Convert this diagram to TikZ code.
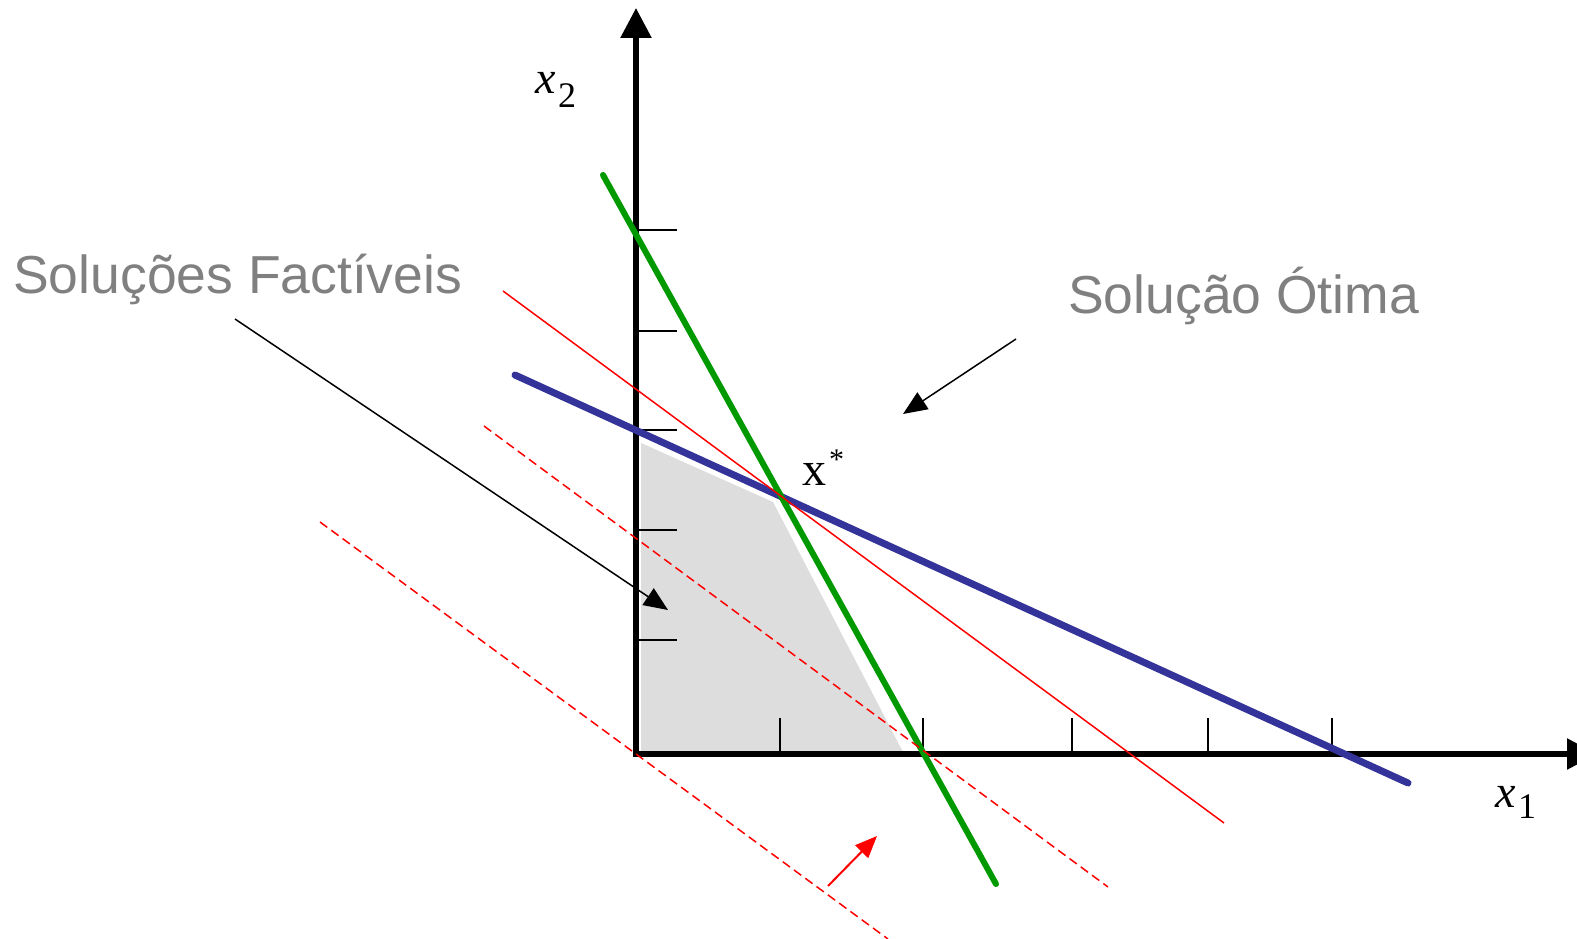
\documentclass[tikz,border=0pt]{standalone}
\usepackage{fontspec}
\setmainfont{Liberation Serif}
\newfontfamily\labelfont{Liberation Sans}
\usetikzlibrary{arrows.meta}
\definecolor{lpgreen}{RGB}{0,153,0}
\definecolor{lpblue}{RGB}{51,51,153}
\definecolor{lpred}{RGB}{255,0,0}
\definecolor{lpgray}{RGB}{128,128,128}
\definecolor{lpshade}{RGB}{221,221,221}
\begin{document}
\begin{tikzpicture}[x=1pt,y=-1pt,
  axisline/.style={line width=5.5pt},
  tickline/.style={line width=1.5pt},
  constraint/.style={line width=7pt, line cap=round},
  objline/.style={lpred, line width=1.5pt},
  objdashed/.style={lpred, line width=1.5pt, dash pattern=on 9pt off 5pt},
  callout/.style={line width=1.5pt, -{Triangle[length=24pt,width=20pt]}},
  bigtext/.style={font=\labelfont\fontsize{53.5}{60}\selectfont, text=lpgray, inner sep=0pt, anchor=base west},
  mathlabel/.style={inner sep=0pt, anchor=base west},
]
\useasboundingbox (0,0) rectangle (1577,939);

% feasible region
\fill[lpshade] (641,443) -- (773,502) -- (903,752) -- (641,752) -- cycle;

% axes
\coordinate (O) at (633,754);
\coordinate (Oy) at (636,757);
\coordinate (xend) at (1597,754);
\coordinate (yend) at (636,8);
\draw[axisline, -{Triangle[length=30pt,width=30pt]}] (O) -- (xend);
\draw[axisline, -{Triangle[length=30pt,width=30pt]}] (Oy) -- (yend);

% ticks
\foreach \tx in {780,923,1072,1208,1332}
  \draw[tickline] (\tx,718) -- (\tx,754);
\foreach \ty in {230,331,430,530,640}
  \draw[tickline] (636,\ty) -- (677,\ty);

% constraints
\coordinate (b1) at (515,375);
\coordinate (b2) at (1408,783);
\draw[constraint, lpblue] (b1) -- (b2);
\coordinate (g1) at (603,175);
\coordinate (g2) at (996,884);
\draw[constraint, line width=6pt, lpgreen] (g1) -- (g2);

% objective lines
\coordinate (r1) at (503,291);
\coordinate (r2) at (1224,823);
\draw[objline] (r1) -- (r2);
\coordinate (d1) at (484,426);
\coordinate (d2) at (1108,887);
\draw[objdashed] (d1) -- (d2);
\coordinate (e1) at (320,522);
\coordinate (e2) at (888,939);
\draw[objdashed] (e1) -- (e2);

% improvement direction
\coordinate (ra1) at (828,886);
\coordinate (ra2) at (877,836);
\draw[lpred, line width=2pt, -{Triangle[length=22pt,width=18pt]}] (ra1) -- (ra2);

% labels
\node[bigtext] (fact) at (13,293) {Soluções Factíveis};
\node[bigtext] (otima) at (1068,313) {Solução Ótima};
\coordinate (fa1) at (235,319);
\coordinate (fa2) at (668,610);
\draw[callout] (fa1) -- (fa2);
\coordinate (oa1) at (1016,339);
\coordinate (oa2) at (903,414);
\draw[callout] (oa1) -- (oa2);

\node[mathlabel] (xtwo) at (535,94) {\fontsize{46}{46}\selectfont\itshape x};
\node[mathlabel] (xtwosub) at (558,108) {\fontsize{36}{36}\selectfont 2};
\node[mathlabel] (xone) at (1495,807) {\fontsize{46}{46}\selectfont\itshape x};
\node[mathlabel] (xonesub) at (1518,818) {\fontsize{36}{36}\selectfont 1};
\node[mathlabel] (xstar) at (802,485) {\fontsize{48}{48}\selectfont x};
\node[mathlabel] (star) at (829,469) {\fontsize{30}{30}\selectfont *};
\end{tikzpicture}
\end{document}
